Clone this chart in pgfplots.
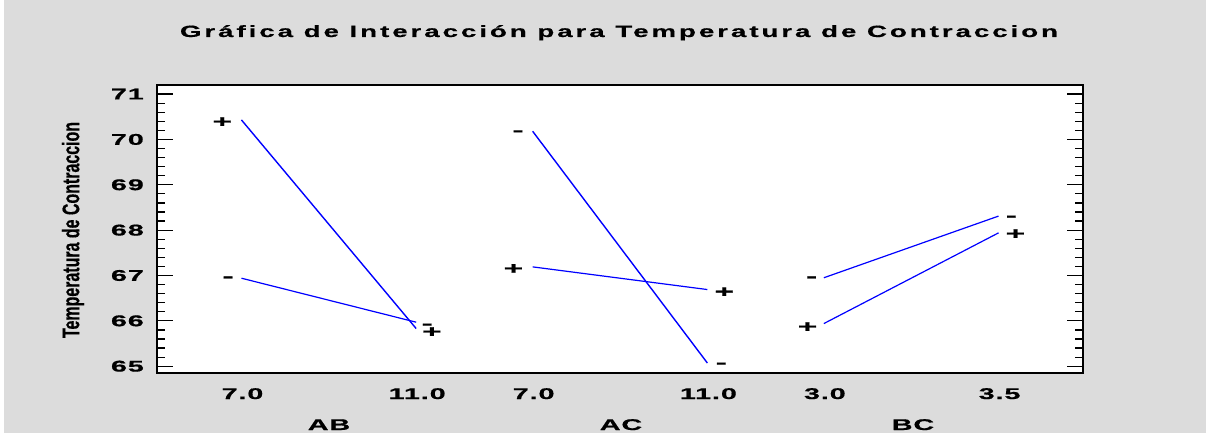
\documentclass[border=0pt]{standalone}
\usepackage{pgfplots}
\usepackage{pgfplotstable}
\pgfplotsset{compat=1.18}
\usepackage{fontspec}
\setmainfont{Liberation Sans}
\newfontfamily\tickfont[FakeStretch=1.85,LetterSpace=6,FakeBold=0.8]{Liberation Sans}
\newfontfamily\titlefont[FakeStretch=1.7,LetterSpace=18,FakeBold=0.5]{Liberation Sans}
\newfontfamily\signfont[FakeStretch=2,FakeBold=1]{Liberation Sans}
\newfontfamily\narrowfont[FakeStretch=0.665,FakeBold=0.4]{Liberation Sans}
\definecolor{bg}{RGB}{220,220,220}
\definecolor{lineblue}{RGB}{0,0,255}

\pgfplotstableread{
x y
1 70.43
4 65.83
}\ABplus
\pgfplotstableread{
x y
1 66.94
4 65.97
}\ABminus
\pgfplotstableread{
x y
6 70.18
9 65.07
}\ACminus
\pgfplotstableread{
x y
6 67.19
9 66.69
}\ACplus
\pgfplotstableread{
x y
11 66.95
14 68.31
}\BCminus
\pgfplotstableread{
x y
11 65.94
14 67.94
}\BCplus
\pgfplotstableread{
x y s
0.67 70.38 +
0.77 66.92 -
4.19 65.88 -
4.27 65.75 +
5.75 70.14 -
5.67 67.14 +
9.29 66.63 +
9.24 65.02 -
10.79 66.92 -
10.72 65.86 +
14.22 68.26 -
14.29 67.91 +
}\signs

\begin{document}
\begin{tikzpicture}[x=1pt,y=1pt]
\path[use as bounding box] (0,0) rectangle (1206,434);
\fill[white] (0,0) rectangle (1206,434);
\fill[bg] (4,1) rectangle (1206,434);
\begin{axis}[
  at={(157pt,61pt)}, anchor=south west,
  scale only axis, width=926pt, height=288pt,
  xmin=-0.45, xmax=15.45, ymin=64.85, ymax=71.2,
  axis background/.style={fill=white},
  axis line style={line width=1.5pt, black},
  xtick={1,4,6,9,11,14},
  xticklabels={7.0,11.0,7.0,11.0,3.0,3.5},
  ytick={65,66,67,68,69,70,71},
  minor y tick num=4,
  tick align=inside,
  ytick pos=both,
  xtick style={draw=none},
  major tick length=16pt, minor tick length=8pt,
  ytick style={line width=1.2pt, black},
  minor tick style={line width=1.2pt, black},
  /pgf/number format/assume math mode=true,
  yticklabel style={font=\tickfont\bfseries\fontsize{15.5}{15.5}\selectfont, anchor=east, inner sep=0pt, xshift=-13pt},
  xticklabel style={font=\tickfont\bfseries\fontsize{15.5}{15.5}\selectfont, anchor=base, inner sep=0pt, yshift=-26pt, xshift=1pt},
  clip=false,
]
\addplot[lineblue, line width=1.4pt, mark=none] table[x=x,y=y] {\ABplus};
\addplot[lineblue, line width=1.2pt, mark=none] table[x=x,y=y] {\ABminus};
\addplot[lineblue, line width=1.4pt, mark=none] table[x=x,y=y] {\ACminus};
\addplot[lineblue, line width=1.2pt, mark=none] table[x=x,y=y] {\ACplus};
\addplot[lineblue, line width=1.2pt, mark=none] table[x=x,y=y] {\BCminus};
\addplot[lineblue, line width=1.2pt, mark=none] table[x=x,y=y] {\BCplus};
\addplot[only marks, mark=none, nodes near coords, point meta=explicit symbolic,
  nodes near coords style={anchor=center, text=black, inner sep=0pt,
  font=\signfont\bfseries\fontsize{16.8}{16.8}\selectfont}]
  table[x=x,y=y,meta=s] {\signs};
\end{axis}
\node[font=\titlefont\bfseries\fontsize{16.3}{16.3}\selectfont, anchor=base] at (619,397) {Gráfica de Interacción para Temperatura de Contraccion};
\node[font=\narrowfont\bfseries\fontsize{24}{24}\selectfont, rotate=90] at (73,204) {Temperatura de Contraccion};
\node[font=\tickfont\bfseries\fontsize{15.5}{15.5}\selectfont, anchor=base] at (329,4) {AB};
\node[font=\tickfont\bfseries\fontsize{15.5}{15.5}\selectfont, anchor=base] at (621,4) {AC};
\node[font=\tickfont\bfseries\fontsize{15.5}{15.5}\selectfont, anchor=base] at (913,4) {BC};
\end{tikzpicture}
\end{document}
